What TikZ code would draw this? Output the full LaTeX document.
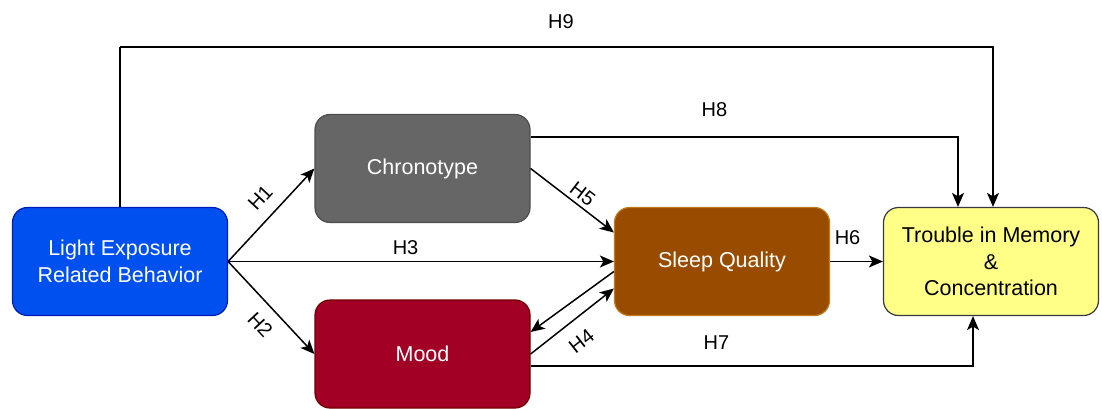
\documentclass[tikz,border=0pt]{standalone}
\usepackage{fontspec}
\setmainfont{Liberation Sans}
\usetikzlibrary{arrows.meta}
\definecolor{lblue}{HTML}{0050EF}
\definecolor{lblueb}{HTML}{001DBC}
\definecolor{cgray}{HTML}{666666}
\definecolor{cgrayb}{HTML}{4D4D4D}
\definecolor{mred}{HTML}{A20025}
\definecolor{mredb}{HTML}{6F0000}
\definecolor{sbrown}{HTML}{994C00}
\definecolor{sbrownb}{HTML}{C27A1A}
\definecolor{tyel}{HTML}{FFFF88}
\definecolor{tyelb}{HTML}{36393D}
\begin{document}
\begin{tikzpicture}[x=1pt,y=-1pt,
  box/.style={rounded corners=15pt, line width=1.2pt, minimum width=215pt, minimum height=108pt,
    align=center, text=white, font=\fontsize{21.5}{26.5}\selectfont, inner sep=0pt},
  arr/.style={line width=1.5pt, -{Stealth[length=14pt,width=12pt,inset=3.5pt]}},
  plain/.style={line width=1.5pt},
  lab/.style={font=\fontsize{20}{24}\selectfont, text=black, inner sep=2pt}]
\useasboundingbox (0,0) rectangle (1102,409);

\node[box, fill=lblue, draw=lblueb] (L) at (120,261.5) {Light Exposure\\Related Behavior};
\node[box, fill=cgray, draw=cgrayb] (C) at (422.5,168.5) {Chronotype};
\node[box, fill=mred, draw=mredb] (M) at (422.5,354) {Mood};
\node[box, fill=sbrown, draw=sbrownb] (S) at (722,261.5) {Sleep Quality};
\node[box, fill=tyel, draw=tyelb, text=black] (T) at (991,261.5) {Trouble in Memory\\\&\\Concentration};

% H9
\coordinate (h9a) at (120,47);
\coordinate (h9b) at (993,47);
\draw[plain] (L.north) -- (h9a);
\draw[arr] (h9a) -- node[lab, above=16pt, pos=0.505] {H9} (h9b) -- (h9b |- T.north);

% H8
\coordinate (h8) at (958,137);
\draw[arr] (h8 -| C.east) -- node[lab, above=18pt, pos=0.43] {H8} (h8) -- (h8 |- T.north);

% H7
\coordinate (h7) at (973,366);
\draw[arr] (h7 -| M.east) -- node[lab, above=14pt, pos=0.42] {H7} (h7) -- (h7 |- T.south);

% H1, H2, H3
\draw[arr] (L.east) -- node[lab, sloped, above=10pt, pos=0.54] {H1} (C.west);
\draw[arr] (L.east) -- node[lab, sloped, below=10pt, pos=0.54] {H2} (M.west);
\draw[arr] (L.east) -- node[lab, above=4pt, pos=0.46] {H3} (S.west);

% H5
\draw[arr] (C.east) -- node[lab, sloped, above=2pt, pos=0.54] {H5} ([yshift=29pt]S.west);

% H4
\draw[arr] ([yshift=-10pt]S.west) -- ([yshift=22pt]M.east);
\draw[arr] (M.east) -- node[lab, sloped, below=12pt, pos=0.45] {H4} ([yshift=-27pt]S.west);

% H6
\draw[arr] (S.east) -- node[lab, above=14pt, pos=0.33] {H6} (T.west);
\end{tikzpicture}
\end{document}
